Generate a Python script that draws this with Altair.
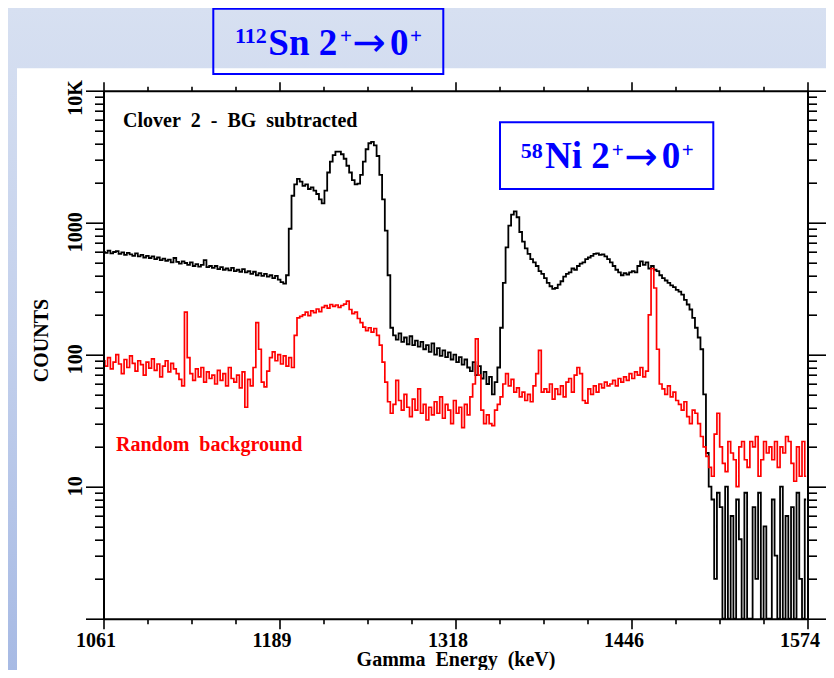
import altair as alt
import pandas as pd

# ---------------- data ----------------
energy = list(range(1061, 1574, 2))  # channel centres in keV (257)

clover_bgsub = [
    600, 590, 615, 585, 600, 610, 580, 595, 570, 590,
    575, 560, 585, 555, 570, 545, 560, 540, 555, 530,
    545, 520, 535, 515, 525, 500, 540, 505, 490, 510,
    495, 480, 500, 470, 485, 465, 480, 520, 460, 470,
    455, 470, 445, 460, 440, 450, 435, 455, 430, 440,
    425, 445, 420, 430, 410, 425, 400, 415, 395, 410,
    390, 400, 380, 395, 370, 355, 345,
    400, 900, 1600, 1950, 2150, 2050, 1900, 1950, 1800, 1850,
    1750, 1650, 1500, 1400, 1750, 2400, 2900, 3250, 3450, 3450,
    3300, 3050, 2700, 2400, 2100, 1950, 1980, 2300, 2900, 3600,
    4000, 4100, 3850, 3200, 2300, 1500, 870, 400, 160,
    140, 130, 145, 125, 135, 120, 138, 118, 128, 115,
    125, 110, 118, 105, 122, 100, 112, 98, 108, 96,
    104, 92, 100, 88, 96, 84, 92, 80, 75, 88,
    70, 82, 66, 74, 60, 68, 50, 62,
    80, 160, 350, 650, 950, 1150, 1220, 1100, 850, 720,
    640, 580, 530, 500, 470, 430, 410, 380, 350, 330,
    315, 320, 340, 360, 390, 410, 420, 450, 440, 470,
    490, 500, 530, 545, 560, 580, 585, 570, 575, 555,
    530, 500, 470, 440, 420, 400, 415, 405, 420, 430,
    420, 470, 510, 480, 500, 450, 470, 440, 430, 400,
    380, 365, 350, 335, 325, 310, 300, 285, 260, 240,
    220, 190, 160, 135, 110, 50, 18,
    10, 8, 2, 9, 7, 1, 10, 1, 6, 1,
    8, 4, 1, 9, 1, 1, 7, 2, 9, 1,
    5, 1, 1, 8, 3, 1, 10, 1, 6, 1,
    7, 1, 9, 2, 1, 8,
]

random_bg = [
    90, 82, 95, 78, 88, 100, 85, 72, 92, 80,
    98, 86, 75, 90, 84, 70, 88, 79, 93, 76,
    85, 68, 82, 90, 74, 86, 78, 72, 65,
    58, 210, 95,
    72, 64, 78, 68, 80, 62, 74, 66, 70, 60, 76, 64, 72, 58, 80, 66, 62, 70, 56, 74,
    40, 65, 58, 80, 175, 110, 62, 57, 75, 95, 105, 90, 100, 85, 98, 82, 95, 80, 140, 190, 195,
    200, 210, 198, 215, 208, 222, 212, 228, 235, 225, 240, 232, 238, 228, 236, 242, 255, 220,
    205, 210, 188, 175, 162, 152, 160, 148, 158, 140, 118, 88, 62, 44,
    36, 42, 64, 45, 38, 50, 40, 34, 46, 38, 55, 36, 42, 32, 40, 35, 44, 36, 48, 33,
    42, 38, 30, 45, 36, 40, 28, 42, 35, 48,
    60, 132, 70, 38, 30, 35, 30, 29, 38, 42,
    48, 60, 72, 58, 65, 52, 56, 48, 52, 45,
    50, 44, 58, 72, 108, 52, 55, 52, 60, 46,
    55, 50, 58, 48, 62, 66, 52, 70, 80, 72,
    45, 43, 55, 50, 58, 52, 60, 56, 62, 58,
    60, 64, 58, 66, 62, 68, 64, 72, 66, 74,
    70, 80, 68, 75, 200, 450, 320, 110, 60, 55,
    50, 58, 48, 52, 45, 42, 38, 44, 34, 30,
    38, 36, 30, 24, 20, 17, 14, 12, 25, 36,
    20, 15, 13, 22, 18, 16, 10, 20, 22, 16,
    14, 22, 20, 24, 12, 16, 22, 18, 20, 16,
    22, 14, 20, 18, 24, 22, 15, 11, 20, 12,
    22, 12,
]

x_ticks = [1061 + 32.0625 * j for j in range(17)]
y_ticks = [m * 10 ** d for d in range(4) for m in range(1, 10)] + [10000]

df_black = pd.DataFrame({"energy": energy, "counts": clover_bgsub})
df_red = pd.DataFrame({"energy": energy, "counts": random_bg})
one = pd.DataFrame({"a": [0]})

# ---------------- styling ----------------
W, H = 704, 528
PAD = {"left": 95.5, "top": 82.7, "right": 18.5, "bottom": 51.3}
SERIF = "Liberation Serif"
BLUE = "#0000ff"

MAJX = "abs((datum.value - 1061) / 128.25 - round((datum.value - 1061) / 128.25)) < 0.01"
MAJY = "abs(log(datum.value) / LN10 - round(log(datum.value) / LN10)) < 0.001"

xscale = alt.Scale(domain=[1061, 1574], nice=False, zero=False)
yscale = alt.Scale(type="log", domain=[1, 10000], nice=False)

common = dict(
    grid=False, zindex=1, domainColor="black", domainWidth=2,
    tickColor="black", tickWidth=1.6,
    labelFont=SERIF, labelFontSize=20, labelFontWeight="bold", labelColor="black",
    titleFont=SERIF, titleFontSize=20, titleFontWeight="bold", titleColor="black",
    labelOverlap=False, labelFlush=False,
)

x_bottom = alt.Axis(
    orient="bottom", values=x_ticks,
    tickSize={"condition": {"test": MAJX, "value": 10}, "value": 5},
    labelExpr=f"({MAJX}) ? format(round(datum.value), 'd') : ''",
    labelOffset=-8, labelPadding=2,
    title="Gamma\u00a0 Energy\u00a0 (keV)", titleX=352, titleY=47,
    titleBaseline="alphabetic", titleAlign="center",
    **common,
)
y_left = alt.Axis(
    orient="left", values=y_ticks,
    tickSize={"condition": {"test": MAJY, "value": 18}, "value": 9},
    labelExpr=f"datum.value >= 9999 ? '10K' : (({MAJY}) && datum.value > 1.5) ? format(datum.value, 'd') : ''",
    labelAngle=270, labelAlign="right", labelBaseline="alphabetic",
    labelOffset=-11, labelPadding=4,
    title="COUNTS", titleAngle=270, titleX=-56.5, titleY=249.3,
    titleBaseline="alphabetic", titleAlign="center",
    **common,
)
x_top = alt.Axis(
    orient="top", values=x_ticks, labels=False,
    tickSize={"condition": {"test": MAJX, "value": 9}, "value": 4.5},
    **common,
)
y_right = alt.Axis(
    orient="right", values=y_ticks, labels=False,
    tickSize={"condition": {"test": MAJY, "value": 19}, "value": 9},
    **common,
)

# ---------------- layers ----------------
gradient = alt.LinearGradient(
    gradient="linear", x1=0, y1=0, x2=0, y2=1,
    stops=[alt.GradientStop(color="#d7e0f1", offset=0),
           alt.GradientStop(color="#c3d0ec", offset=0.5),
           alt.GradientStop(color="#a7bae4", offset=1)],
)
bg = alt.Chart(one).mark_rect(fill=gradient, strokeWidth=0).encode(
    x=alt.value(-95.5), x2=alt.value(W + 18.5), y=alt.value(-82.7), y2=alt.value(H + 51.3)
)
panel = alt.Chart(one).mark_rect(fill="white", strokeWidth=0).encode(
    x=alt.value(-86.5), x2=alt.value(W + 25), y=alt.value(-22.4), y2=alt.value(H + 60)
)


def box(x1, x2, y1, y2):
    return alt.Chart(one).mark_rect(fillOpacity=0, stroke=BLUE, strokeWidth=2).encode(
        x=alt.value(x1), x2=alt.value(x2), y=alt.value(y1), y2=alt.value(y2)
    )


def label(txt, x, y, size, color, font=SERIF, weight="bold"):
    return alt.Chart(one).mark_text(
        text=txt, font=font, fontSize=size, fontWeight=weight, color=color,
        align="left", baseline="alphabetic",
    ).encode(x=alt.value(x), y=alt.value(y))


sn_box = box(109.8, 339.8, -82.0, -16.7)
sn_text = [
    label("112", 131.5, -47.4, 22, BLUE),
    label("Sn 2", 164.8, -35.7, 37, BLUE),
    label("+", 236.5, -47.4, 21, BLUE),
    label("\u2192", 249.0, -34.5, 40, BLUE, font="DejaVu Sans", weight="normal"),
    label("0", 286.5, -35.7, 37, BLUE),
    label("+", 306.5, -47.4, 21, BLUE),
]
ni_box = box(396.5, 609.8, 31.6, 98.3)
ni_text = [
    label("58", 417.2, 67.0, 22, BLUE),
    label("Ni 2", 441.5, 77.6, 37, BLUE),
    label("+", 508.2, 66.3, 21, BLUE),
    label("\u2192", 521.0, 78.8, 40, BLUE, font="DejaVu Sans", weight="normal"),
    label("0", 558.2, 77.6, 37, BLUE),
    label("+", 578.2, 66.3, 21, BLUE),
]

black = alt.Chart(df_black).mark_line(
    color="black", strokeWidth=1.8, interpolate="step"
).encode(
    x=alt.X("energy:Q", scale=xscale, axis=x_bottom),
    y=alt.Y("counts:Q", scale=yscale, axis=y_left),
)
red = alt.Chart(df_red).mark_line(
    color="#ff0000", strokeWidth=1.7, interpolate="step"
).encode(
    x=alt.X("energy:Q", scale=xscale, axis=x_top, title=None),
    y=alt.Y("counts:Q", scale=yscale, axis=y_right, title=None),
)

clover_txt = label("Clover\u00a0 2\u00a0 -\u00a0 BG\u00a0 subtracted", 19.5, 36.6, 20, "black")
random_txt = label("Random\u00a0 background", 12.5, 360.3, 20, "#ff0000")

chart = alt.layer(
    bg, panel, sn_box, *sn_text, ni_box, *ni_text, black, red, clover_txt, random_txt
).resolve_axis(x="independent", y="independent").properties(
    width=W, height=H, padding=PAD, autosize=alt.AutoSizeParams(type="none")
).configure_view(strokeWidth=0)

chart.save("out.html", embed_options={"renderer": "svg", "actions": False})
